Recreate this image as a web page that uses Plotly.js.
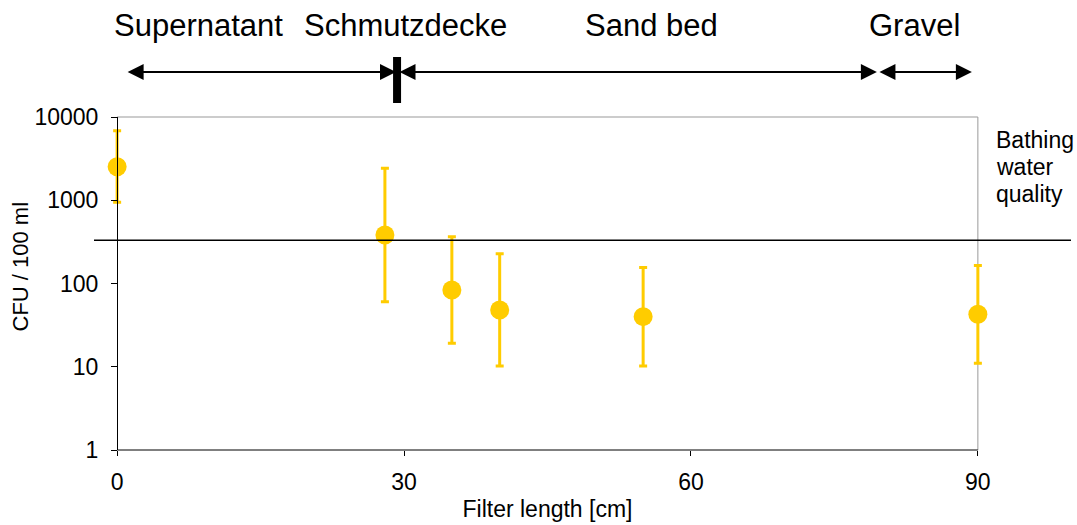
<!DOCTYPE html>
<html>
<head>
<meta charset="utf-8">
<script src="https://cdn.plot.ly/plotly-3.0.1.min.js"></script>
<style>html,body{margin:0;padding:0;background:#fff;}#chart{width:1077px;height:525px;}</style>
</head>
<body>
<div id="chart"></div>
<script>
// Data
const filterLength = [0, 28, 35, 40, 55, 90];          // cm
const cfuMean      = [2530, 383, 83.5, 48, 40, 42.7];   // CFU / 100 ml
const cfuHigh      = [6850, 2420, 365, 228, 156, 165];
const cfuLow       = [945, 60.4, 19.1, 10.2, 10.2, 11];
const bathingLimit = 330;
const yTickVals    = [1, 10, 100, 1000, 10000];
const xTickVals    = [0, 30, 60, 90];

// Zone labels and arrow extents (cm)
const zoneNames  = ['Supernatant', 'Schmutzdecke', 'Sand bed', 'Gravel'];
const zoneCenter = [8.5, 30.1, 55.9, 83.4];
const arrowFrom  = [0.94, 29.37, 79.55];
const arrowTo    = [29.16, 79.44, 89.37];
const boundaryX  = 29.27;
const limitLabel = ['Bathing', 'water', 'quality'];

const FONT = 'Liberation Sans, Arial, sans-serif';
const yellow = '#FFCC00';

// x range padded a little so the end error bars are not clipped
const X_MIN = -2, X_MAX = 92;
const PXU = 861 / 90;                 // pixels per cm
const mL = Math.round(117 + X_MIN * PXU);
const mR = Math.round(1077 - (978 + (X_MAX - 90) * PXU));
const plotW = 1077 - mL - mR;
const toPaperX = px => (px - mL) / plotW;
const toPaperY = py => (450 - py) / 333;

const trace = {
  x: filterLength,
  y: cfuMean,
  type: 'scatter',
  mode: 'markers',
  marker: {color: yellow, size: 19},
  error_y: {
    type: 'data',
    symmetric: false,
    array: cfuMean.map((v, i) => cfuHigh[i] - v),
    arrayminus: cfuMean.map((v, i) => v - cfuLow[i]),
    color: yellow,
    thickness: 3,
    width: 4
  },
  cliponaxis: false,
  showlegend: false,
  hoverinfo: 'x+y'
};

const annotations = [];
zoneNames.forEach((n, i) => {
  annotations.push({
    x: zoneCenter[i], y: toPaperY(25), xref: 'x', yref: 'paper',
    text: n, showarrow: false, xanchor: 'center', yanchor: 'middle',
    font: {family: FONT, size: 31, color: '#000'}
  });
});
arrowFrom.forEach((a, i) => {
  annotations.push({
    x: arrowTo[i], y: toPaperY(72), xref: 'x', yref: 'paper',
    ax: a, ay: 0, axref: 'x', ayref: 'pixel',
    text: '', showarrow: true, arrowside: 'end+start',
    arrowhead: 2, arrowsize: 1.6, arrowwidth: 2, arrowcolor: '#000',
    standoff: 0, startstandoff: 0
  });
});
limitLabel.forEach((t, i) => {
  annotations.push({
    x: toPaperX(994), y: toPaperY(125 + 27 * i), xref: 'paper', yref: 'paper',
    xanchor: 'left', yanchor: 'top', align: 'left',
    text: t, showarrow: false,
    font: {family: FONT, size: 23, color: '#000'}
  });
});
// y axis title (placed as in the reference, slightly above centre)
annotations.push({
  x: toPaperX(20), y: toPaperY(266.5), xref: 'paper', yref: 'paper',
  xanchor: 'center', yanchor: 'middle', textangle: -90,
  text: 'CFU / 100 ml', showarrow: false,
  font: {family: FONT, size: 22, color: '#000'}
});

const layout = {
  width: 1077, height: 525,
  margin: {l: mL, r: mR, t: 117, b: 75, pad: 0},
  paper_bgcolor: '#fff', plot_bgcolor: 'rgba(0,0,0,0)',
  font: {family: FONT, size: 23, color: '#000'},
  xaxis: {
    range: [X_MIN, X_MAX], tickvals: xTickVals, ticks: 'outside', ticklen: 5,
    tickcolor: '#000', showline: false,
    showgrid: false, zeroline: false,
    tickfont: {family: FONT, size: 23},
    ticklabelstandoff: 6,
    title: {text: 'Filter length [cm]', font: {family: FONT, size: 23}, standoff: 7}
  },
  yaxis: {
    type: 'log', range: [0, 4], tickvals: yTickVals,
    ticktext: yTickVals.map(String),
    anchor: 'free', position: toPaperX(117),
    ticks: 'outside', ticklen: 6, tickcolor: '#000',
    showline: true, linecolor: '#000', linewidth: 1,
    showgrid: false, zeroline: false,
    tickfont: {family: FONT, size: 23},
    ticklabelstandoff: 8
  },
  shapes: [
    // grey frame (top and right)
    {type: 'line', xref: 'x', yref: 'paper', x0: 0, x1: 90, y0: 1, y1: 1,
     line: {color: '#999', width: 1}, layer: 'below'},
    {type: 'line', xref: 'x', yref: 'paper', x0: 90, x1: 90, y0: 0, y1: 1,
     line: {color: '#999', width: 1}, layer: 'below'},
    // x axis line from 0 to 90
    {type: 'line', xref: 'x', yref: 'paper', x0: 0, x1: 90, y0: 0, y1: 0,
     line: {color: '#000', width: 1}, layer: 'below'},
    // bathing water quality limit
    {type: 'line', xref: 'paper', yref: 'y', x0: toPaperX(94), x1: toPaperX(1071),
     y0: bathingLimit, y1: bathingLimit, line: {color: '#000', width: 1.5}},
    // Supernatant / Schmutzdecke boundary
    {type: 'line', xref: 'x', yref: 'paper', x0: boundaryX, x1: boundaryX,
     y0: toPaperY(103), y1: toPaperY(57), line: {color: '#000', width: 8}}
  ],
  annotations: annotations
};

Plotly.newPlot('chart', [trace], layout, {displayModeBar: false, staticPlot: true});
</script>
</body>
</html>
